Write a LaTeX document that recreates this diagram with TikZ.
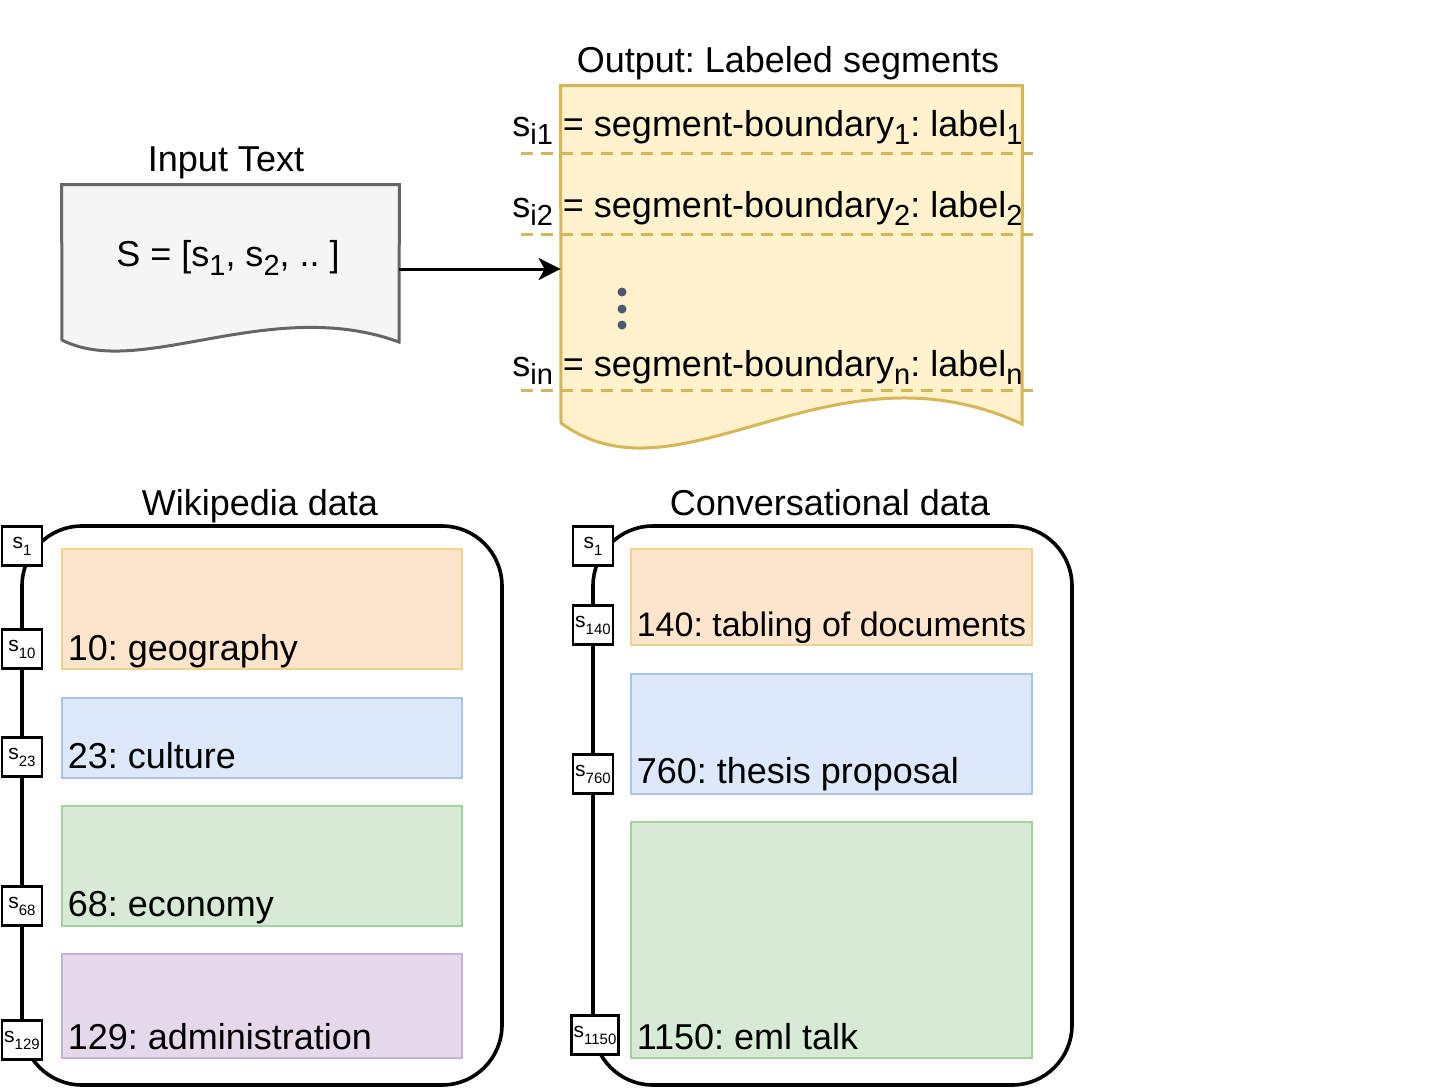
\documentclass[tikz,border=0pt]{standalone}
\usepackage{fontspec}
\setmainfont{Liberation Sans}
\usetikzlibrary{arrows.meta, positioning, calc}

\definecolor{docgray}{HTML}{F5F5F5}
\definecolor{docedge}{HTML}{666666}
\definecolor{outfill}{HTML}{FFF2CC}
\definecolor{outedge}{HTML}{D6B656}
\definecolor{dotgray}{HTML}{4A5870}
\definecolor{orfill}{HTML}{FDE5CC}
\definecolor{ordraw}{HTML}{F0D48C}
\definecolor{blfill}{HTML}{DDE9FB}
\definecolor{bldraw}{HTML}{A9C4EB}
\definecolor{grfill}{HTML}{D7EAD5}
\definecolor{grdraw}{HTML}{A3D29C}
\definecolor{pufill}{HTML}{E4D8EA}
\definecolor{pudraw}{HTML}{C5B3D3}

% subscripts in the style of the drawing
\newcommand{\bigsub}[1]{\raisebox{-4.3pt}{\fontsize{14.5}{15}\selectfont #1}}
\newcommand{\tinysub}[1]{\raisebox{-3.5pt}{\fontsize{7.5}{8}\selectfont #1}}

\tikzset{
    bigtext/.style={font=\fontsize{18}{21}\selectfont},
    segbox/.style={draw, line width=0.6pt, inner sep=0pt},
    sbox/.style={draw, fill=white, line width=1.2pt, minimum width=20pt,
        minimum height=19.5pt, inner sep=1pt, font=\fontsize{10.5}{11}\selectfont},
    frame/.style={draw, line width=1.8pt, rounded corners=30pt, inner sep=0pt},
    seglabel/.style={bigtext, anchor=base west, inner sep=0pt},
}

\begin{document}
\frenchspacing
\begin{tikzpicture}[x=0.5pt, y=-0.5pt, >={Stealth[length=11pt, width=11pt, inset=3pt]}]

    \useasboundingbox (0,0) rectangle (1448,1088);

    % Input document
    \node[minimum width=168.5pt, minimum height=84pt, inner sep=0pt] (inp) at (230.5,269) {};
    \draw[fill=docgray, draw=docedge, line width=1.5pt]
        (inp.north west) -- (inp.north east) -- (399,342)
        .. controls (270,295) and (140,380) .. (62,340) -- cycle;
    \node[bigtext, anchor=base] (inptitle) at (226,171) {Input Text};
    \node[bigtext] (inptext) at (228,258) {S = [s\bigsub{1}, s\bigsub{2}, .. ]};

    % Output document
    \node[minimum width=230.5pt, minimum height=182pt, inner sep=0pt] (out) at (791.5,268) {};
    \draw[fill=outfill, draw=outedge, line width=1.5pt]
        (out.north west) -- (out.north east) -- (1022,424)
        .. controls (830,335) and (680,510) .. (561,423) -- cycle;
    \node[bigtext, anchor=base] (outtitle) at (788,72) {Output: Labeled segments};

    \foreach \y in {153, 234, 390} {
        \draw[outedge, line width=1.5pt, dash pattern=on 6pt off 4pt] (521,\y) -- (1037,\y);
    }
    \foreach \y in {292, 309, 325} {
        \fill[dotgray] (622,\y) circle (4.5);
    }

    \node[seglabel] (seg1) at (512,136) {s\bigsub{i1} = segment-boundary\bigsub{1}: label\bigsub{1}};
    \node[seglabel] (seg2) at (512,217) {s\bigsub{i2} = segment-boundary\bigsub{2}: label\bigsub{2}};
    \node[seglabel] (segn) at (512,376) {s\bigsub{in} = segment-boundary\bigsub{n}: label\bigsub{n}};

    \draw[->, line width=1.5pt] (inp.east) -- (inp.east -| out.west);

    % Wikipedia data
    \node[frame, minimum width=240pt, minimum height=279.5pt] (wiki) at (262,805.5) {};
    \node[bigtext, anchor=base] (wikititle) at (260,515) {Wikipedia data};

    \node[segbox, fill=orfill, draw=ordraw, minimum width=200pt, minimum height=60pt] (geo) at (262,609) {};
    \node[segbox, fill=blfill, draw=bldraw, minimum width=200pt, minimum height=40pt] (cul) at (262,738) {};
    \node[segbox, fill=grfill, draw=grdraw, minimum width=200pt, minimum height=60pt] (eco) at (262,866) {};
    \node[segbox, fill=pufill, draw=pudraw, minimum width=200pt, minimum height=52pt] (adm) at (262,1006) {};

    \node[seglabel] (geot) at ($(geo.south west)+(6,-9)$) {10: geography};
    \node[seglabel] (cult) at ($(cul.south west)+(6,-10)$) {23: culture};
    \node[seglabel] (ecot) at ($(eco.south west)+(6,-10)$) {68: economy};
    \node[seglabel] (admt) at ($(adm.south west)+(6,-9)$) {129: administration};

    \foreach \n/\y in {1/546, 10/649, 23/757, 68/906, 129/1040} {
        \node[sbox] (w\n) at (22,\y) {s\tinysub{\n}};
    }

    % Conversational data
    \node[frame, minimum width=239.5pt, minimum height=279.5pt] (conv) at (832.5,805.5) {};
    \node[bigtext, anchor=base] (convtitle) at (830,515) {Conversational data};

    \node[segbox, fill=orfill, draw=ordraw, minimum width=200.5pt, minimum height=48pt] (tab) at (831.5,597) {};
    \node[segbox, fill=blfill, draw=bldraw, minimum width=200.5pt, minimum height=60pt] (thes) at (831.5,734) {};
    \node[segbox, fill=grfill, draw=grdraw, minimum width=200.5pt, minimum height=118pt] (eml) at (831.5,940) {};

    \node[seglabel, font=\fontsize{17}{20}\selectfont] (tabt) at ($(tab.south west)+(6,-9)$) {140: tabling of documents};
    \node[seglabel] (thest) at ($(thes.south west)+(6,-11)$) {760: thesis proposal};
    \node[seglabel] (emlt) at ($(eml.south west)+(6,-9)$) {1150: eml talk};

    \foreach \n/\y in {1/546, 140/625, 760/774} {
        \node[sbox] (c\n) at (593,\y) {s\tinysub{\n}};
    }
    \node[sbox, minimum width=22pt] (c1150) at (595,1035) {s\tinysub{1150}};

\end{tikzpicture}
\end{document}
